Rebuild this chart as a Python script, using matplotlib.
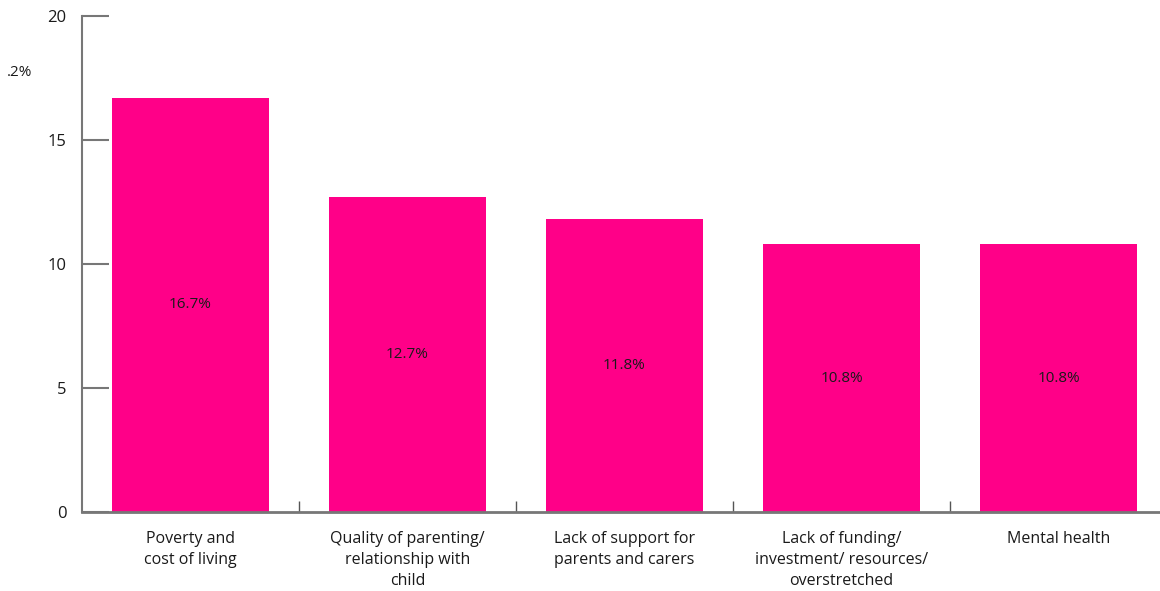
import matplotlib.pyplot as plt
import numpy as np

# Reasons given, share of responses (%)
categories = [
    'Poverty and\ncost of living',
    'Quality of parenting/\nrelationship with\nchild',
    'Lack of support for\nparents and carers',
    'Lack of funding/\ninvestment/ resources/\noverstretched',
    'Mental health',
]
values = [16.7, 12.7, 11.8, 10.8, 10.8]
value_labels = ['16.7%', '12.7%', '11.8%', '10.8%', '10.8%']
yticks = [0, 5, 10, 15, 20]

plt.rcParams['font.family'] = ['Open Sans', 'DejaVu Sans']

fig = plt.figure(figsize=(11.6, 5.91), dpi=100)
ax = fig.add_axes([82 / 1160, 1 - 512 / 591, 1085 / 1160, 496 / 591])

x = np.arange(len(values))
bars = ax.bar(x, values, width=0.72, color='#FF0088', zorder=2)

for xi, v, lab in zip(x, values, value_labels):
    ax.text(xi, v / 2, lab, ha='center', va='center', fontsize=11, color='#1a1a1a', zorder=3)

ax.set_xlim(-0.5, len(values) - 0.5)
ax.set_ylim(0, 20)

# y axis: long inward grey ticks
ax.set_yticks(yticks)
ax.tick_params(axis='y', direction='in', length=19.5, width=1.5, color='#777777',
               labelsize=12, pad=11, labelcolor='#1a1a1a')

# x axis: labels centred on bars, short ticks between categories
ax.set_xticks(x)
ax.set_xticklabels(categories, fontsize=11.5, color='#1a1a1a', linespacing=1.4, va='top')
ax.tick_params(axis='x', which='major', length=0, pad=14)
ax.set_xticks(x[:-1] + 0.5, minor=True)
ax.tick_params(axis='x', which='minor', direction='in', length=8, width=1, color='#555555')

for side in ['top', 'right']:
    ax.spines[side].set_visible(False)
ax.spines['left'].set_color('#777777')
ax.spines['left'].set_linewidth(1.5)
ax.spines['bottom'].set_color('#777777')
ax.spines['bottom'].set_linewidth(2)

fig.text(20 / 1160, 1 - 72 / 591, '.2%', ha='center', va='center', fontsize=11, color='#1a1a1a')

fig.savefig('out.png', dpi=100)
